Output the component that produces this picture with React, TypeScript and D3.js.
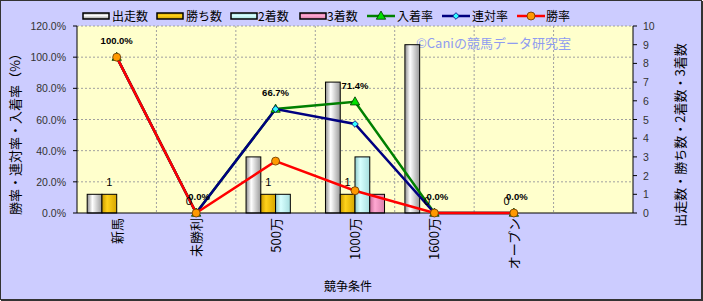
import React from "react";
import * as d3 from "d3";

const categories = ["新馬", "未勝利", "500万", "1000万", "1600万", "オープン", ""];
const dataCats = ["新馬", "未勝利", "500万", "1000万", "1600万", "オープン"];
const starts = [1, 0, 3, 7, 9, 0];
const wins = [1, 0, 1, 1, 0, 0];
const seconds = [0, 0, 1, 3, 0, 0];
const thirds = [0, 0, 0, 1, 0, 0];
const placeRate = [1, 0, 0.667, 0.714, 0, 0];
const quinellaRate = [1, 0, 0.667, 0.571, 0, 0];
const winRate = [1, 0, 0.333, 0.143, 0, 0];
const leftTicks = [0, 0.2, 0.4, 0.6, 0.8, 1.0, 1.2];
const rightTicks = [0, 1, 2, 3, 4, 5, 6, 7, 8, 9, 10];

const barSeries = [
  { key: "出走数", values: starts, grad: "gStart", stops: ["#8e8e8e", "#ffffff", "#9a9a9a"] },
  { key: "勝ち数", values: wins, grad: "gWin", stops: ["#c99a00", "#ffd21a", "#d6a600"] },
  { key: "2着数", values: seconds, grad: "gSecond", stops: ["#8fcaca", "#d8ffff", "#a6dede"] },
  { key: "3着数", values: thirds, grad: "gThird", stops: ["#c86a96", "#ffa8d2", "#d97fab"] },
];

const W = 703, H = 301;
const L = 77, R = 633, T = 26, B = 213;
const FONT = "'Liberation Sans', Arial, 'Noto Sans CJK JP', sans-serif";
const JFONT = "'Noto Sans CJK JP', 'Liberation Sans', sans-serif";

export default function App() {
  const x = d3.scaleBand().domain(categories).range([L, R]).padding(0);
  const xi = d3.scaleBand().domain(barSeries.map((s) => s.key)).range([0, x.bandwidth()]).paddingInner(0).paddingOuter(0.69);
  const yL = d3.scaleLinear().domain([0, 1.2]).range([B, T]);
  const yR = d3.scaleLinear().domain([0, 10]).range([B, T]);
  const cx = (c: string) => (x(c) as number) + x.bandwidth() / 2;
  const pct = d3.format(".1%");

  const lineGen = (vals: number[]) =>
    d3.line<number>().x((_, i) => cx(dataCats[i])).y((v) => yL(v))(vals) as string;

  const tri = d3.symbol().type(d3.symbolTriangle).size(38)() as string;
  const dia = d3.symbol().type(d3.symbolSquare).size(22)() as string;

  const lineSeries = [
    { key: "入着率", values: placeRate, color: "#008000", marker: "tri" },
    { key: "連対率", values: quinellaRate, color: "#000080", marker: "dia" },
    { key: "勝率", values: winRate, color: "#ff0000", marker: "circ" },
  ];

  const drawMarker = (m: string, px: number, py: number, k: string) => {
    if (m === "tri")
      return <path key={k} d={tri} transform={`translate(${px},${py + 0.5})`} fill="#00e000" stroke="#003300" strokeWidth={0.8} />;
    if (m === "dia")
      return <path key={k} d={dia} transform={`translate(${px},${py}) rotate(45)`} fill="#33ffff" stroke="#000080" strokeWidth={0.8} />;
    return <circle key={k} cx={px} cy={py} r={4} fill="#ff9900" stroke="#663300" strokeWidth={0.8} />;
  };

  const legendBars = [
    { x1: 83, tx: 112 },
    { x1: 157, tx: 186 },
    { x1: 231, tx: 258 },
    { x1: 300, tx: 327 },
  ];
  const legendLines = [
    { x1: 367, tx: 397 },
    { x1: 442, tx: 472 },
    { x1: 517, tx: 546 },
  ];
  const LY = 16;

  return (
    <svg width={W} height={H} style={{ position: "absolute", left: 0, top: 0 }} fontFamily={FONT}>
      <defs>
        {barSeries.map((s) => (
          <linearGradient key={s.grad} id={s.grad} x1="0" x2="1" y1="0" y2="0">
            <stop offset="0%" stopColor={s.stops[0]} />
            <stop offset="35%" stopColor={s.stops[1]} />
            <stop offset="100%" stopColor={s.stops[2]} />
          </linearGradient>
        ))}
        {barSeries.map((s) => (
          <linearGradient key={s.grad + "v"} id={s.grad + "v"} x1="0" x2="0" y1="0" y2="1">
            <stop offset="0%" stopColor={s.stops[0]} />
            <stop offset="40%" stopColor={s.stops[1]} />
            <stop offset="100%" stopColor={s.stops[2]} />
          </linearGradient>
        ))}
      </defs>
      <rect x={0.5} y={0.5} width={W - 2} height={H - 2} fill="#ccccff" stroke="#333" strokeWidth={1} />
      <line x1={W - 1} y1={1} x2={W - 1} y2={H} stroke="#333" strokeWidth={2} />
      <line x1={1} y1={H - 1} x2={W} y2={H - 1} stroke="#333" strokeWidth={2} />

      {/* plot area */}
      <rect x={L} y={T} width={R - L} height={B - T} fill="#ffffcc" />
      {leftTicks.slice(1).map((t) => (
        <line key={"hg" + t} x1={L} x2={R} y1={yL(t)} y2={yL(t)} stroke="#a0a0a0" strokeWidth={1} strokeDasharray="2,2" />
      ))}
      {categories.slice(1).map((c) => (
        <line key={"vg" + c} x1={x(c) as number} x2={x(c) as number} y1={T} y2={B} stroke="#a0a0a0" strokeWidth={1} strokeDasharray="2,2" />
      ))}

      <text x={416} y={48} fontSize={13} fill="#8f9cf0" fontFamily={JFONT}>©Caniの競馬データ研究室</text>

      {/* bars */}
      {barSeries.map((s) =>
        s.values.map((v, i) => {
          const c = dataCats[i];
          const bx = (x(c) as number) + (xi(s.key) as number);
          if (v <= 0) return null;
          return (
            <rect key={s.key + i} x={bx} y={yR(v)} width={xi.bandwidth()} height={B - yR(v)} fill={`url(#${s.grad})`} stroke="#000" strokeWidth={1} />
          );
        })
      )}

      {/* axes */}
      <line x1={L} x2={L} y1={T} y2={B} stroke="#000" />
      <line x1={R} x2={R} y1={T} y2={B} stroke="#000" />
      <line x1={L} x2={R} y1={B} y2={B} stroke="#000" />
      {leftTicks.map((t) => (
        <g key={"lt" + t}>
          <line x1={L - 4} x2={L} y1={yL(t)} y2={yL(t)} stroke="#000" />
          <text x={66} y={yL(t) + 4} textAnchor="end" fontSize={10.5} fill="#333">{pct(t)}</text>
        </g>
      ))}
      {rightTicks.map((t) => (
        <g key={"rt" + t}>
          <line x1={R} x2={R + 4} y1={yR(t)} y2={yR(t)} stroke="#000" />
          <text x={643} y={yR(t) + 4} fontSize={10.5} fill="#333">{t}</text>
        </g>
      ))}

      {/* lines */}
      {lineSeries.map((s) => (
        <path key={s.key} d={lineGen(s.values)} fill="none" stroke={s.color} strokeWidth={2.5} />
      ))}
      {lineSeries.map((s) => s.values.map((v, i) => drawMarker(s.marker, cx(dataCats[i]), yL(v), s.key + i)))}

      {/* bar labels (wins) */}
      {wins.map((v, i) => {
        const c = dataCats[i];
        const bx = (x(c) as number) + (xi("勝ち数") as number) + xi.bandwidth() / 2;
        return (
          <text key={"wl" + i} x={bx} y={yR(v) - 8} textAnchor="middle" fontSize={11} fill="#000">{v}</text>
        );
      })}
      {/* percent labels */}
      {placeRate.map((v, i) => (
        <text key={"pl" + i} x={cx(dataCats[i]) + (v === 0 ? 3 : 0)} y={yL(v) - 13} textAnchor="middle" fontSize={9.5} fontWeight="bold" fill="#000">{pct(v)}</text>
      ))}

      {/* x labels */}
      {dataCats.map((c) => (
        <text key={"xl" + c} transform={`translate(${cx(c) + 5},218) rotate(-90)`} textAnchor="end" fontSize={13} fill="#000" fontFamily={JFONT}>{c}</text>
      ))}
      <text x={348} y={291} textAnchor="middle" fontSize={12} fill="#000" fontFamily={JFONT}>競争条件</text>
      <text transform={`translate(20,131) rotate(-90)`} textAnchor="middle" fontSize={13} fill="#000" fontFamily={JFONT}>勝率・連対率・入着率（%）</text>
      <text transform={`translate(685,135) rotate(-90)`} textAnchor="middle" fontSize={13} fill="#000" fontFamily={JFONT}>出走数・勝ち数・2着数・3着数</text>

      {/* legend */}
      {barSeries.map((s, i) => (
        <g key={"lg" + s.key}>
          <rect x={legendBars[i].x1} y={LY - 3} width={26} height={6} fill={`url(#${s.grad}v)`} stroke="#000" strokeWidth={1.5} />
          <text x={legendBars[i].tx} y={LY + 5} fontSize={12} fill="#000" fontFamily={JFONT}>{s.key}</text>
        </g>
      ))}
      {lineSeries.map((s, i) => (
        <g key={"ll" + s.key}>
          <line x1={legendLines[i].x1} x2={legendLines[i].x1 + 28} y1={LY} y2={LY} stroke={s.color} strokeWidth={2.5} />
          {drawMarker(s.marker, legendLines[i].x1 + 14, LY, "lm" + i)}
          <text x={legendLines[i].tx} y={LY + 5} fontSize={12} fill="#000" fontFamily={JFONT}>{s.key}</text>
        </g>
      ))}
    </svg>
  );
}
